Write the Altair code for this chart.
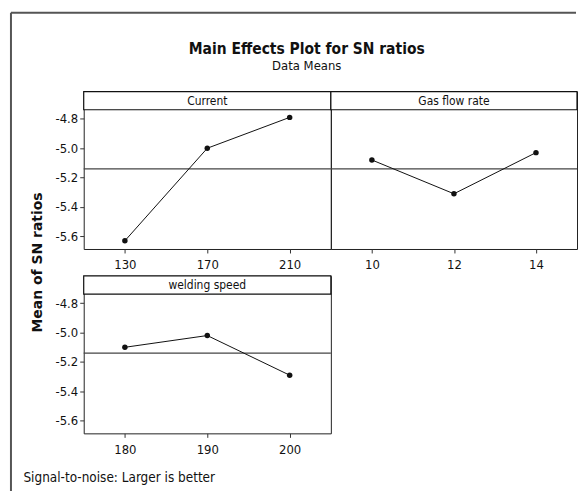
import altair as alt
import pandas as pd

# ---- data ----
factor_names = ["Current", "Gas flow rate", "welding speed"]
current_levels = [130, 170, 210]
current_sn = [-5.63, -5.00, -4.79]
gas_levels = [10, 12, 14]
gas_sn = [-5.08, -5.31, -5.03]
speed_levels = [180, 190, 200]
speed_sn = [-5.10, -5.02, -5.29]
overall_mean = [-5.14]
y_ticks = [-4.8, -5.0, -5.2, -5.4, -5.6]

FONT = "DejaVu Sans Condensed, Liberation Sans Narrow, DejaVu Sans"
WIDE = "DejaVu Sans"
Y_MIN, Y_MAX = -5.686, -4.614
STRIP_BOTTOM = -4.738
LABEL_EXPR = "(datum.value < 0 ? '-' : '') + format(abs(datum.value), '.1f')"


def panel(name, levels, values, width, show_y, y_title=None, x_title=None, frame=False):
    df = pd.DataFrame({"level": levels, "sn": values})
    xs = alt.Scale(type="point", padding=0.5, domain=levels)
    ys = alt.Scale(domain=[Y_MIN, Y_MAX], nice=False, zero=False)

    x_kw = dict(labelAngle=0, domain=False, grid=False, tickSize=4, tickColor="#333",
                labelFont=FONT, labelFontSize=13, labelColor="#111", labelPadding=6)
    if x_title:
        x_axis = alt.Axis(title=x_title, titleFont=FONT, titleFontSize=13.5, titleFontWeight="normal",
                          titleColor="#111", titleX=-61, titleY=44, titleAlign="left",
                          titleBaseline="middle", titleAnchor="start", **x_kw)
    else:
        x_axis = alt.Axis(title=None, **x_kw)

    if show_y:
        y_kw = dict(values=y_ticks, labelExpr=LABEL_EXPR, domain=False, grid=False, tickSize=4,
                    tickColor="#333", labelFont=FONT, labelFontSize=13, labelColor="#111",
                    labelPadding=2)
        if y_title:
            y_axis = alt.Axis(title=y_title, titleFont=WIDE, titleFontSize=14, titleFontWeight="bold",
                              titleColor="#111", titleX=-46, titleY=171, titleAngle=-90,
                              titleAlign="center", titleBaseline="middle", **y_kw)
        else:
            y_axis = alt.Axis(title=None, **y_kw)
    else:
        y_axis = None

    base = alt.Chart(df)
    one = alt.Chart(pd.DataFrame({"f": [name]}))
    mean_df = alt.Chart(pd.DataFrame({"m": overall_mean}))

    strip = one.mark_rect(fill="white", stroke="#111", strokeWidth=1.2).encode(
        x=alt.value(0), x2=alt.value(width),
        y=alt.YDatum(STRIP_BOTTOM, scale=ys, axis=y_axis),
        y2=alt.Y2Datum(Y_MAX),
    )
    strip_text = one.mark_text(font=FONT, fontSize=12, color="#111").encode(
        x=alt.XDatum(levels[1], type="ordinal", scale=xs, axis=x_axis),
        y=alt.YDatum((STRIP_BOTTOM + Y_MAX) / 2, scale=ys, axis=y_axis),
        text="f:N",
    )
    mean_rule = mean_df.mark_rule(color="#444", strokeWidth=1.2).encode(
        y=alt.Y("m:Q", scale=ys, axis=y_axis)
    )
    line = base.mark_line(color="#111", strokeWidth=1).encode(
        x=alt.X("level:O", scale=xs, axis=x_axis, sort=levels),
        y=alt.Y("sn:Q", scale=ys, axis=y_axis),
    )
    pts = base.mark_point(filled=True, color="#111", size=30, opacity=1).encode(
        x=alt.X("level:O", scale=xs, axis=x_axis, sort=levels),
        y=alt.Y("sn:Q", scale=ys, axis=y_axis),
    )
    layers = [mean_rule, line, pts, strip, strip_text]
    if frame:
        fr = alt.Chart(pd.DataFrame({"k": [0]}))
        layers.append(fr.mark_rule(color="#555", strokeWidth=2).encode(
            x=alt.value(-73), y=alt.value(-79), y2=alt.value(401)))
        layers.append(fr.mark_rule(color="#555", strokeWidth=2).encode(
            x=alt.value(-73), x2=alt.value(494), y=alt.value(-79)))
    return alt.layer(*layers).properties(width=width, height=158)


p1 = panel(factor_names[0], current_levels, current_sn, 248, True,
           y_title="Mean of SN ratios", frame=True)
p2 = panel(factor_names[1], gas_levels, gas_sn, 247, False)
p3 = panel(factor_names[2], speed_levels, speed_sn, 248, True,
           x_title="Signal-to-noise: Larger is better")

chart = alt.concat(
    p1, p2, p3, columns=2, spacing={"row": 27, "column": 0}, bounds="flush",
    title=alt.TitleParams(text="Main Effects Plot for SN ratios", subtitle="Data Means",
                          font=FONT, fontSize=15.5, fontWeight="bold", color="#111",
                          subtitleFont=FONT, subtitleFontSize=13, subtitleColor="#111",
                          anchor="middle", offset=-62, subtitlePadding=3, dx=13),
).properties(
    padding={"left": 9, "top": 10, "right": 0, "bottom": 0},
    background="white",
).configure_view(stroke="#222", strokeWidth=1)

chart.save("out.html", embed_options={"renderer": "svg", "actions": False})
